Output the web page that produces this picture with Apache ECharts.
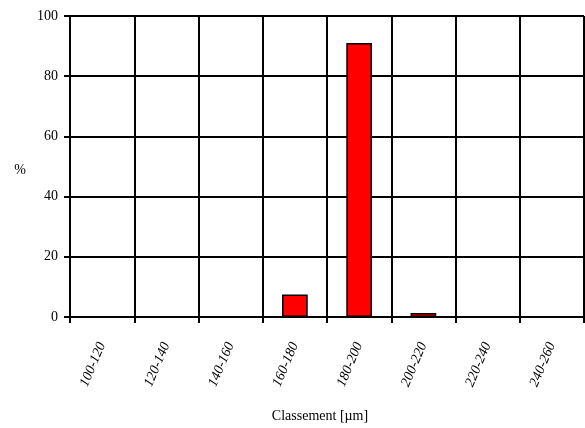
<!DOCTYPE html>
<html><head><meta charset="utf-8">
<script src="https://cdn.jsdelivr.net/npm/echarts@6/dist/echarts.min.js"></script>
<style>html,body{margin:0;padding:0;background:#fff}#c{width:585px;height:428px}</style>
</head><body><div id="c"></div>
<script>
const categories = ['100-120','120-140','140-160','160-180','180-200','200-220','220-240','240-260'];
const values = [0, 0, 0, 7.5, 91, 1.3, 0, 0];
const yTicks = [0, 20, 40, 60, 80, 100];
const font = '"Liberation Serif", "Times New Roman", serif';
const chart = echarts.init(document.getElementById('c'));
chart.setOption({
  animation: false,
  grid: {left: 70, top: 16, right: 1, bottom: 110, containLabel: false},
  xAxis: {
    type: 'category', data: categories, boundaryGap: true,
    name: 'Classement [µm]', nameLocation: 'middle', nameGap: 92,
    nameTextStyle: {fontFamily: font, fontSize: 14, color: '#000', padding: [0, 14, 0, 0]},
    axisLine: {lineStyle: {color: '#000', width: 2}},
    axisTick: {show: true, length: 6, lineStyle: {color: '#000', width: 2}},
    axisLabel: {rotate: 67, margin: 26, fontFamily: font, fontStyle: 'italic', fontSize: 14, color: '#000'},
    splitLine: {show: true, lineStyle: {color: '#000', width: 2}}
  },
  yAxis: {
    type: 'value', min: yTicks[0], max: yTicks[yTicks.length-1], interval: 20,
    name: '%', nameLocation: 'middle', nameGap: 44, nameRotate: 0,
    nameTextStyle: {fontFamily: font, fontSize: 14, color: '#000', verticalAlign: 'top', lineHeight: 8},
    axisLine: {show: true, lineStyle: {color: '#000', width: 2}},
    axisTick: {show: true, length: 6, lineStyle: {color: '#000', width: 2}},
    axisLabel: {margin: 12, fontFamily: font, fontSize: 14, color: '#000'},
    splitLine: {show: true, lineStyle: {color: '#000', width: 2}}
  },
  series: [{
    type: 'bar', data: values, barWidth: '40%',
    itemStyle: {color: '#ff0000', borderColor: '#000', borderWidth: 1.5}
  }]
});
</script></body></html>
